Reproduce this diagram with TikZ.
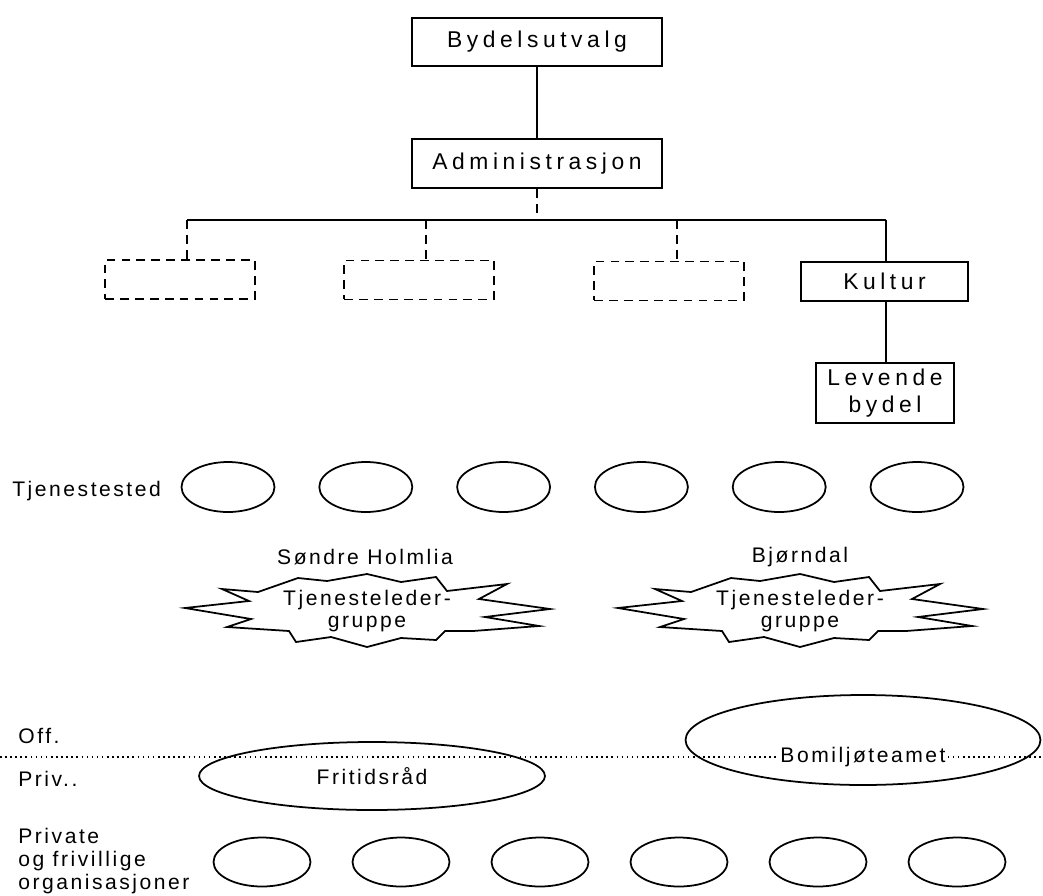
\documentclass[tikz,border=0pt]{standalone}
\usepackage{fontspec}
\setmainfont{Liberation Sans}[LetterSpace=12]
\newfontfamily\boxfont{Liberation Sans}[LetterSpace=20]
\usetikzlibrary{shapes.geometric}

\tikzset{
	orgbox/.style={draw, line width=1pt, font=\boxfont\fontsize{13}{15.3}\selectfont, align=center, inner sep=1pt},
	emptybox/.style={draw, line width=1pt, dash pattern=on 5pt off 3.5pt, minimum width=3cm, minimum height=0.78cm},
	place/.style={draw, ellipse, line width=1pt, minimum width=1.86cm, minimum height=1cm},
	lbl/.style={font=\fontsize{12}{13}\selectfont, inner sep=0pt}
}

% burst around a node (pixel units)
\newcommand{\burstshape}[1]{%
	\draw[line width=1pt, shift={(#1)}] (-109,-19) -- (-69,-33) -- (-40,-30) -- (0,-37) -- (34,-29) -- (69,-34) -- (80,-20)
	-- (140,-27) -- (112,-12) -- (183,-2) -- (118,6) -- (172,15) -- (106,20) -- (78,20)
	-- (69,29) -- (34,27) -- (0,36) -- (-36,26) -- (-71,31) -- (-78,20)
	-- (-140,16) -- (-116,8) -- (-182,-3) -- (-118,-10) -- (-145,-22) -- cycle;}

\begin{document}
\begin{tikzpicture}[x=0.02cm, y=-0.02cm]
	\useasboundingbox (0,0) rectangle (1043,895);
	
	%top of the chart
	\node[orgbox, minimum width=5cm, minimum height=0.96cm] (byd) at (537,42) {Bydelsutvalg};
	\node[orgbox, minimum width=5cm, minimum height=0.98cm] (adm) at (537,163.5) {Administrasjon};
	\draw[line width=1pt] (byd) -- (adm);
	
	\coordinate (hl) at (187,220);
	\coordinate (hr) at (886,220);
	\draw[line width=1pt] (hl) -- (hr);
	\draw[line width=1pt, dash pattern=on 5pt off 3.5pt] (adm.south) -- (adm.south |- hl);
	
	\node[emptybox] (d1) at (180,279.5) {};
	\node[emptybox] (d2) at (419,280) {};
	\node[emptybox] (d3) at (669,281) {};
	\foreach \n/\x in {d1/187, d2/426, d3/677}{
		\draw[line width=1pt, dash pattern=on 5pt off 3.5pt] (\x,220) -- (\x,0 |- \n.north);
	}
	
	\node[orgbox, minimum width=3.34cm, minimum height=0.78cm] (kul) at (884.5,281.5) {Kultur};
	\node[orgbox, minimum width=2.76cm, minimum height=1.2cm] (lev) at (885,393) {Levende\\bydel};
	\draw[line width=1pt] (hr) -- (hr |- kul.north);
	\draw[line width=1pt] (kul.south -| hr) -- (lev.north -| hr);
	
	%tjenestested
	\node[lbl, anchor=west] (tjs) at (12,491) {Tjenestested};
	\foreach \i in {1,...,6}{
		\node[place] (ts\i) at ({228+137.8*(\i-1)},487) {};
	}
	
	%tjenesteledergrupper
	\node[lbl] (sh) at (365,557) {Søndre Holmlia};
	\node[lbl] (bj) at (800,557) {Bjørndal};
	\node[lbl, align=center, font=\fontsize{12}{12.5}\selectfont] (tg1) at (367,611) {Tjenesteleder-\\gruppe};
	\node[lbl, align=center, font=\fontsize{12}{12.5}\selectfont] (tg2) at (800,611) {Tjenesteleder-\\gruppe};
	\burstshape{tg1}
	\burstshape{tg2}
	
	%offentlig / privat
	\node[lbl, anchor=west] (off) at (18,736) {Off.};
	\node[lbl, anchor=west] (priv) at (18,779) {Priv..};
	\node[draw, ellipse, line width=1pt, minimum width=6.92cm, minimum height=1.36cm] (frs) at (372,776) {};
	\node[lbl] at (frs.center) {Fritidsråd};
	\node[draw, ellipse, line width=1pt, minimum width=7.1cm, minimum height=1.8cm] (bmt) at (863,740) {};
	\coordinate (dl) at (0,757);
	\coordinate (dr) at (1043,757);
	\draw[dotted, line width=0.9pt] (dl) -- (dr);
	\node[lbl, fill=white, inner sep=1pt] (bmtxt) at (bmt.center |- dl) {Bomiljøteamet};
	
	%private og frivillige
	\node[lbl, anchor=west, align=left] (pfo) at (18,861) {Private\\og frivillige\\organisasjoner};
	\foreach \i in {1,...,6}{
		\node[place, minimum width=1.94cm, minimum height=0.98cm] (po\i) at ({262+139*(\i-1)},862) {};
	}
\end{tikzpicture}
\end{document}
